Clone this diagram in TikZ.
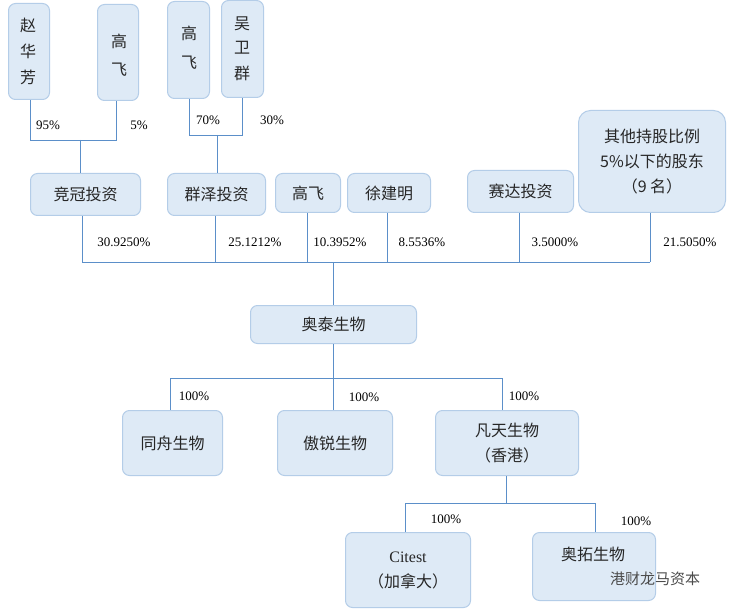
\documentclass[tikz,border=0pt]{standalone}
\usepackage{fontspec}
\setmainfont{Liberation Serif}
\newfontfamily\cjk{Noto Sans CJK SC}
\begin{document}
\begin{tikzpicture}[x=1pt,y=-1pt,
  box/.style={draw=boxb,fill=boxf,rounded corners=7pt,line width=1pt,font=\cjk\fontsize{16}{25}\selectfont,align=center,text=black!85},
  vt/.style={font=\cjk\fontsize{16}{21}\selectfont,text=black!85},
  ln/.style={draw=lnc,line width=0.8pt},
  pct/.style={font=\fontsize{13}{15}\selectfont,text=black}]
\definecolor{boxf}{HTML}{DEEAF6}
\definecolor{boxb}{HTML}{B4CDE8}
\definecolor{lnc}{HTML}{5B8FC9}
\useasboundingbox[fill=white] (0,0) rectangle (735,612);
% top persons
\node[box,minimum width=41,minimum height=96,anchor=north west] (zhf) at (8,3) {};
\node[vt] (zhf1) at (28,25) {赵};
\node[vt] (zhf2) at (28,51) {华};
\node[vt] (zhf3) at (28,77) {芳};
\node[box,minimum width=41,minimum height=96,anchor=north west] (gf1) at (97,4) {};
\node[vt] (gf1a) at (119,41) {高};
\node[vt] (gf1b) at (119,70) {飞};
\node[box,minimum width=42,minimum height=97,anchor=north west] (gf2) at (167,1) {};
\node[vt] (gf2a) at (189,33) {高};
\node[vt] (gf2b) at (189,63) {飞};
\node[box,minimum width=42,minimum height=97,anchor=north west] (wwq) at (221,0) {};
\node[vt] (wwq1) at (242,24) {吴};
\node[vt] (wwq2) at (242,48) {卫};
\node[vt] (wwq3) at (242,73) {群};
% shareholders
\node[box,minimum width=110,minimum height=42,anchor=north west] (jg) at (30,173) {竞冠投资};
\node[box,minimum width=98,minimum height=42,anchor=north west] (qz) at (167,173) {群泽投资};
\node[box,minimum width=65,minimum height=39,anchor=north west] (gf3) at (275,173) {高飞};
\node[box,minimum width=83,minimum height=39,anchor=north west] (xjm) at (347,173) {徐建明};
\node[box,minimum width=106,minimum height=42,anchor=north west] (sd) at (467,170) {赛达投资};
\node[box,minimum width=147,minimum height=102,anchor=north west,rounded corners=12pt] (qt) at (578,110) {其他持股比例\\5\%以下的股东\\（9 名）};
\node[box,minimum width=166,minimum height=38,anchor=north west] (at) at (250,305) {奥泰生物};
\node[box,minimum width=100,minimum height=65,anchor=north west] (tz) at (122,410) {同舟生物};
\node[box,minimum width=115,minimum height=65,anchor=north west] (ar) at (277,410) {傲锐生物};
\node[box,minimum width=143,minimum height=65,anchor=north west] (ft) at (435,410) {凡天生物\\（香港）};
\node[box,minimum width=125,minimum height=75,anchor=north west] (ct) at (345,532) {{\rmfamily Citest}\\（加拿大）};
\node[box,minimum width=123,minimum height=68,anchor=north west] (atb) at (532,532) {};
\node[vt] (atbt) at (593,554) {奥拓生物};
% top connectors
\draw[ln] (zhf.south -| 30,0) -- (30,140) -- (116,140) -- (gf1.south -| 116,0);
\draw[ln] (80,140) -- (jg.north -| 80,0);
\draw[ln] (gf2.south -| 189,0) -- (189,135) -- (242,135) -- (wwq.south -| 242,0);
\draw[ln] (217,135) -- (qz.north -| 217,0);
\node[pct] (p1) at (48,125) {95\%};
\node[pct] (p2) at (139,125) {5\%};
\node[pct] (p3) at (208,120) {70\%};
\node[pct] (p4) at (272,120) {30\%};
% bus
\coordinate (bus) at (333,262);
\draw[ln] (82,262) -- (650,262);
\draw[ln] (jg.south -| 82,0) -- (82,262);
\draw[ln] (qz.south -| 215,0) -- (215,262);
\draw[ln] (gf3.south -| 307,0) -- (307,262);
\draw[ln] (xjm.south -| 387,0) -- (387,262);
\draw[ln] (sd.south -| 519,0) -- (519,262);
\draw[ln] (qt.south -| 650,0) -- (650,262);
\draw[ln] (bus) -- (at.north -| bus);
\node[pct] (q1) at (124,242) {30.9250\%};
\node[pct] (q2) at (255,242) {25.1212\%};
\node[pct] (q3) at (340,242) {10.3952\%};
\node[pct] (q4) at (422,242) {8.5536\%};
\node[pct] (q5) at (555,242) {3.5000\%};
\node[pct] (q6) at (690,242) {21.5050\%};
% subsidiaries
\draw[ln] (at.south -| 333,0) -- (333,378);
\draw[ln] (170,378) -- (502,378);
\draw[ln] (170,378) -- (tz.north -| 170,0);
\draw[ln] (333,378) -- (ar.north -| 333,0);
\draw[ln] (502,378) -- (ft.north -| 502,0);
\node[pct] (r1) at (194,396) {100\%};
\node[pct] (r2) at (364,397) {100\%};
\node[pct] (r3) at (524,396) {100\%};
\draw[ln] (ft.south -| 506,0) -- (506,503);
\draw[ln] (405,503) -- (595,503);
\draw[ln] (405,503) -- (ct.north -| 405,0);
\draw[ln] (595,503) -- (atb.north -| 595,0);
\node[pct] (s1) at (446,519) {100\%};
\node[pct] (s2) at (636,521) {100\%};
\node[font=\cjk\fontsize{15}{17}\selectfont,text=black!70] (wm) at (655,579) {港财龙马资本};
\end{tikzpicture}
\end{document}
